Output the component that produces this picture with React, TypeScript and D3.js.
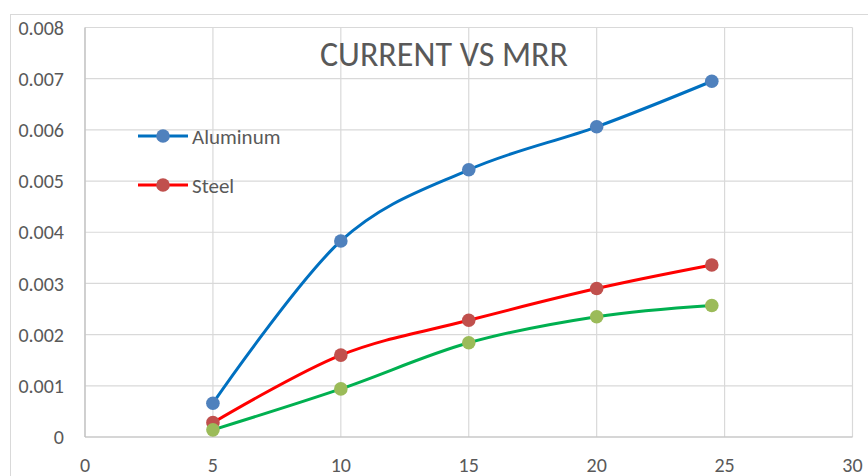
import React from "react";
import * as d3 from "d3";

// Current (A) vs material removal rate
const currents = [5, 10, 15, 20, 24.5];
const aluminum = [0.00066, 0.00383, 0.00522, 0.00606, 0.00695];
const steel = [0.00028, 0.0016, 0.00228, 0.0029, 0.00336];
const third = [0.00014, 0.00094, 0.00184, 0.00235, 0.00257];

const xTicks = [0, 5, 10, 15, 20, 25, 30];
const yTicks = [0, 0.001, 0.002, 0.003, 0.004, 0.005, 0.006, 0.007, 0.008];
const yTickLabels = ["0", "0.001", "0.002", "0.003", "0.004", "0.005", "0.006", "0.007", "0.008"];

const series = [
  { name: "Aluminum", values: aluminum, line: "#0070C0", marker: "#4F81BD", legend: true },
  { name: "Steel", values: steel, line: "#FF0000", marker: "#C0504D", legend: true },
  { name: "", values: third, line: "#00B050", marker: "#9BBB59", legend: false },
];

const W = 868;
const H = 476;
const plot = { left: 85, right: 852.5, top: 27.5, bottom: 437 };
const font = "Carlito, Calibri, 'Liberation Sans', Arial, sans-serif";
const textColor = "#595959";

export default function App() {
  const x = d3.scaleLinear().domain([0, 30]).range([plot.left, plot.right]);
  const y = d3.scaleLinear().domain([0, 0.008]).range([plot.bottom, plot.top]);
  const line = d3
    .line<number>()
    .x((_, i) => x(currents[i]))
    .y((d) => y(d))
    .curve(d3.curveCardinal.tension(0));

  const legendItems = series.filter((s) => s.legend);

  return (
    <svg
      width={W}
      height={H}
      style={{ position: "absolute", left: 0, top: 0, background: "#fff" }}
    >
      <rect x={10.5} y={14.5} width={900} height={500} fill="#fff" stroke="#D9D9D9" strokeWidth={1} />

      {/* gridlines */}
      {yTicks.map((t) => (
        <line
          key={"gy" + t}
          x1={plot.left}
          x2={plot.right}
          y1={y(t)}
          y2={y(t)}
          stroke="#D9D9D9"
          strokeWidth={1.2}
        />
      ))}
      {xTicks.map((t) => (
        <line
          key={"gx" + t}
          x1={x(t)}
          x2={x(t)}
          y1={plot.top}
          y2={plot.bottom}
          stroke="#D9D9D9"
          strokeWidth={1.2}
        />
      ))}
      {/* axes */}
      <line x1={plot.left} x2={plot.left} y1={plot.top} y2={plot.bottom} stroke="#BFBFBF" strokeWidth={1.2} />
      <line x1={plot.left} x2={plot.right} y1={plot.bottom} y2={plot.bottom} stroke="#BFBFBF" strokeWidth={1.2} />

      {/* tick labels */}
      {yTicks.map((t, i) => (
        <text
          key={"ly" + t}
          x={64}
          y={y(t)}
          dy="0.36em"
          textAnchor="end"
          fontFamily={font}
          fontSize={20}
          fill={textColor}
        >
          {yTickLabels[i]}
        </text>
      ))}
      {xTicks.map((t) => (
        <text
          key={"lx" + t}
          x={x(t)}
          y={465}
          dy="0.36em"
          textAnchor="middle"
          fontFamily={font}
          fontSize={20}
          fill={textColor}
        >
          {t}
        </text>
      ))}

      {/* title */}
      <text
        x={444}
        y={66}
        textAnchor="middle"
        fontFamily={font}
        fontSize={34}
        fill={textColor}
      >
        CURRENT VS MRR
      </text>

      {/* series */}
      {series.map((s) => (
        <g key={s.line}>
          <path d={line(s.values) ?? ""} fill="none" stroke={s.line} strokeWidth={3} strokeLinecap="round" />
          {s.values.map((v, i) => (
            <circle key={i} cx={x(currents[i])} cy={y(v)} r={6.8} fill={s.marker} />
          ))}
        </g>
      ))}

      {/* legend */}
      {legendItems.map((s, i) => {
        const ly = 136 + i * 49;
        return (
          <g key={"lg" + s.name}>
            <line x1={138} x2={188} y1={ly} y2={ly} stroke={s.line} strokeWidth={3} />
            <circle cx={163} cy={ly} r={6.8} fill={s.marker} />
            <text x={192} y={ly} dy="0.36em" fontFamily={font} fontSize={21} fill={textColor}>
              {s.name}
            </text>
          </g>
        );
      })}
    </svg>
  );
}
